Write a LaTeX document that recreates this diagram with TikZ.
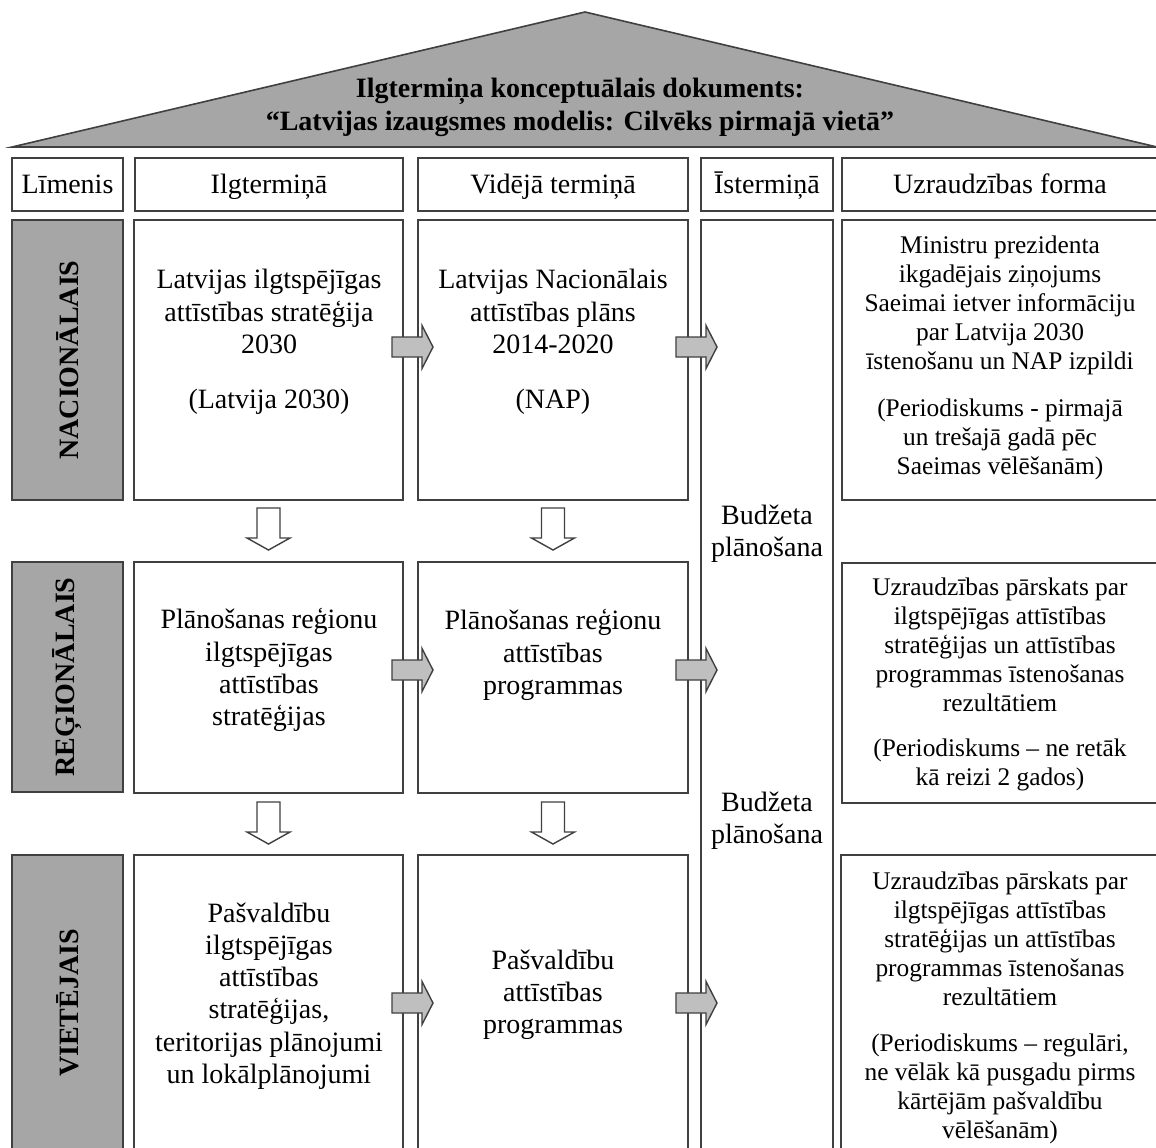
\documentclass[tikz,border=0pt]{standalone}
\usepackage{fontspec}
\setmainfont{Liberation Serif}
\usetikzlibrary{fit}
\definecolor{trigray}{HTML}{A6A6A6}
\definecolor{arrgray}{HTML}{BFBFBF}
\definecolor{lncol}{HTML}{404040}
\tikzset{
  box/.style={draw=lncol, line width=0.8pt, inner sep=0pt, fill=white},
  graybox/.style={box, fill=trigray},
  maintxt/.style={align=center, inner sep=0pt, font=\fontsize{14}{16.1}\selectfont},
  sidetxt/.style={align=center, inner sep=0pt, font=\fontsize{12.7}{14.5}\selectfont},
  headtxt/.style={anchor=base, inner sep=0pt, font=\fontsize{14}{16.5}\selectfont},
  vlabel/.style={rotate=90, inner sep=0pt, font=\fontsize{14}{16.5}\selectfont\bfseries},
  rarr/.pic={\draw[draw=lncol, line width=0.7pt, fill=arrgray, line join=miter]
      (0,-10) -- (30,-10) -- (30,-21.5) -- (41,0) -- (30,21.5) -- (30,10) -- (0,10) -- cycle;},
  darr/.pic={\draw[draw=lncol, line width=0.7pt, fill=white, line join=miter]
      (-11.5,0) -- (11.5,0) -- (11.5,30) -- (21.5,30) -- (0,42) -- (-21.5,30) -- (-11.5,30) -- cycle;}
}
\begin{document}
\begin{tikzpicture}[x=0.5pt,y=-0.5pt]
\useasboundingbox (0,0) rectangle (1156,1147);
\clip (0,0) rectangle (1156,1147);
\fill[white] (0,0) rectangle (1156,1147);

% roof
\draw[draw=lncol, line width=0.8pt, fill=trigray] (12,147) -- (585,12) -- (1157,147) -- cycle;
\node[align=center, inner sep=0pt, font=\fontsize{14}{16.5}\selectfont\bfseries] (title) at (580,107)
  {Ilgtermiņa konceptuālais dokuments:\\“Latvijas izaugsmes modelis: Cilvēks pirmajā vietā”};

% header row
\node[box, fit={(12,158) (123,211)}] (h0) {};
\node[box, fit={(135,158) (403,211)}] (h1) {};
\node[box, fit={(418,158) (688,211)}] (h2) {};
\node[box, fit={(701,158) (833,211)}] (h3) {};
\node[box, fit={(842,158) (1170,211)}] (h4) {};
\node[headtxt] (t0) at (67.5,193) {Līmenis};
\node[headtxt] (t1) at (269,193) {Ilgtermiņā};
\node[headtxt] (t2) at (553,193) {Vidējā termiņā};
\node[headtxt] (t3) at (767,193) {Īstermiņā};
\node[headtxt] (t4) at (1000,193) {Uzraudzības forma};

% short-term column
\node[box, fit={(701,220) (833,1170)}] (col3) {};
\node[maintxt] (bud1) at (767,534) {Budžeta\\plānošana};
\node[maintxt] (bud2) at (767,821) {Budžeta\\plānošana};

% row 1
\node[graybox, fit={(12,220) (123,500)}] (g1) {};
\node[vlabel] (v1) at (67.5,360) {NACIONĀLAIS};
\node[box, fit={(134,220) (403,500)}] (b11) {};
\node[box, fit={(418,220) (688,500)}] (b12) {};
\node[box, fit={(842,220) (1170,500)}] (r1) {};
\node[maintxt] (x11) at (269,342) {Latvijas ilgtspējīgas\\attīstības stratēģija\\2030\\[11.5pt](Latvija 2030)};
\node[maintxt] (x12) at (553,342) {Latvijas Nacionālais\\attīstības plāns\\2014-2020\\[11.5pt](NAP)};
\node[sidetxt] (y1) at (1000,358) {Ministru prezidenta\\ikgadējais ziņojums\\Saeimai ietver informāciju\\par Latvija 2030\\īstenošanu un NAP izpildi\\[9pt](Periodiskums - pirmajā\\un trešajā gadā pēc\\Saeimas vēlēšanām)};

% row 2
\node[graybox, fit={(12,562) (123,792)}] (g2) {};
\node[vlabel] (v2) at (67.5,677) {REĢIONĀLAIS};
\node[box, fit={(134,562) (403,793)}] (b21) {};
\node[box, fit={(418,562) (688,793)}] (b22) {};
\node[box, fit={(842,563) (1170,803)}] (r2) {};
\node[maintxt] (x21) at (269,670) {Plānošanas reģionu\\ilgtspējīgas\\attīstības\\stratēģijas};
\node[maintxt] (x22) at (553,655) {Plānošanas reģionu\\attīstības\\programmas};
\node[sidetxt] (y2) at (1000,684) {Uzraudzības pārskats par\\ilgtspējīgas attīstības\\stratēģijas un attīstības\\programmas īstenošanas\\rezultātiem\\[8pt](Periodiskums – ne retāk\\kā reizi 2 gados)};

% row 3
\node[graybox, fit={(12,855) (123,1170)}] (g3) {};
\node[vlabel] (v3) at (67.5,1003) {VIETĒJAIS};
\node[box, fit={(134,855) (403,1170)}] (b31) {};
\node[box, fit={(418,855) (688,1170)}] (b32) {};
\node[box, fit={(841,855) (1170,1170)}] (r3) {};
\node[maintxt] (x31) at (269,996) {Pašvaldību\\ilgtspējīgas\\attīstības\\stratēģijas,\\teritorijas plānojumi\\un lokālplānojumi};
\node[maintxt] (x32) at (553,995) {Pašvaldību\\attīstības\\programmas};
\node[sidetxt] (y3) at (1000,1008) {Uzraudzības pārskats par\\ilgtspējīgas attīstības\\stratēģijas un attīstības\\programmas īstenošanas\\rezultātiem\\[8.5pt](Periodiskums – regulāri,\\ne vēlāk kā pusgadu pirms\\kārtējām pašvaldību\\vēlēšanām)};

% horizontal block arrows
\pic at (392,347) {rarr};
\pic at (676,347) {rarr};
\pic at (392,670) {rarr};
\pic at (676,670) {rarr};
\pic at (392,1003) {rarr};
\pic at (676,1003) {rarr};

% downward block arrows
\pic at (268.5,508) {darr};
\pic at (553,508) {darr};
\pic at (268.5,802) {darr};
\pic at (553,802) {darr};
\end{tikzpicture}
\end{document}
